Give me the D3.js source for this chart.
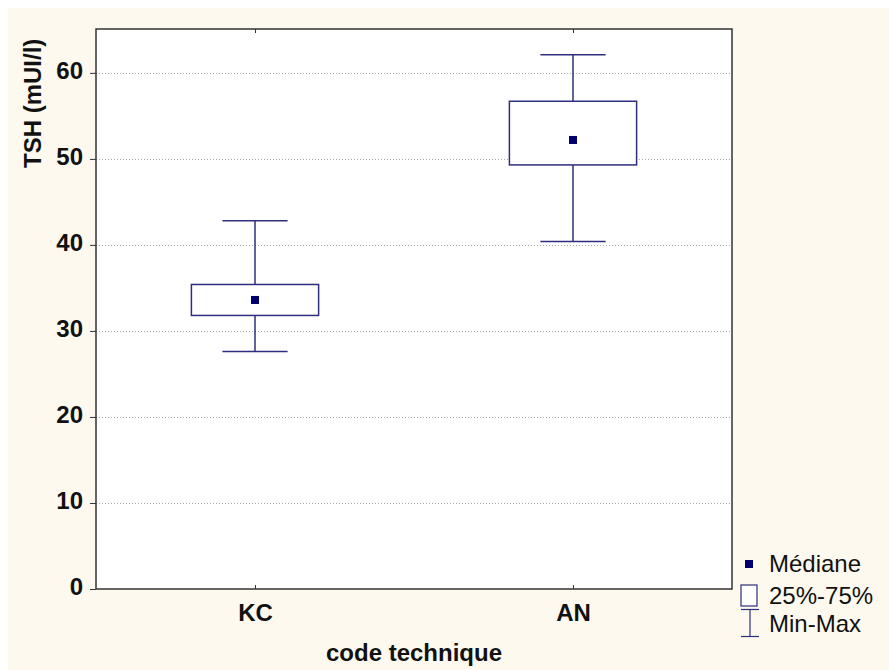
<!DOCTYPE html>
<html><head><meta charset="utf-8">
<script src="https://cdn.jsdelivr.net/npm/d3@7"></script>
<style>
html,body{margin:0;padding:0;background:#fff;}
svg{display:block;}
</style></head>
<body>
<svg id="chart" width="889" height="670"></svg>
<script>
const categories = ["KC", "AN"];
const minValues = [27.6, 40.4];
const q1Values = [31.8, 49.3];
const medianValues = [33.6, 52.2];
const q3Values = [35.4, 56.7];
const maxValues = [42.8, 62.1];
const yTicks = [0, 10, 20, 30, 40, 50, 60];
const legendLabels = ["Médiane", "25%-75%", "Min-Max"];

const svg = d3.select("#chart");
const W = 889, H = 670;
const m = {left: 96, top: 29, right: 732, bottom: 589};
const stroke = "#2e2e7e";
const medColor = "#00006e";
const font = "Liberation Sans, Arial, sans-serif";

svg.append("rect").attr("x", 8).attr("y", 8).attr("width", W - 8).attr("height", H - 8).attr("fill", "#fdf9ef");
svg.append("rect").attr("x", m.left).attr("y", m.top).attr("width", m.right - m.left).attr("height", m.bottom - m.top).attr("fill", "#fff");

const y = d3.scaleLinear().domain([0, 65.1]).range([m.bottom, m.top]);
const x = d3.scalePoint().domain(categories).range([m.left, m.right]).padding(0.5);
const step = x.step();
const boxW = step * 0.4;
const capW = step * 0.205;

// grid
svg.append("g").selectAll("line").data(yTicks.filter(d => d > 0)).join("line")
  .attr("x1", m.left).attr("x2", m.right)
  .attr("y1", d => Math.round(y(d)) + 0.5).attr("y2", d => Math.round(y(d)) + 0.5)
  .attr("stroke", "#a8a8a8").attr("stroke-width", 1).attr("stroke-dasharray", "1,2");

// y axis
const yAxis = d3.axisLeft(y).tickValues(yTicks).tickSize(6).tickPadding(7);
const gy = svg.append("g").attr("transform", `translate(${m.left},0)`).call(yAxis);
gy.select(".domain").remove();
gy.selectAll(".tick line").attr("stroke", "#333");
gy.selectAll(".tick text").attr("font-family", font).attr("font-weight", "bold")
  .attr("font-size", 24).attr("fill", "#111").attr("dy", "0.22em");

// x axis (bottom)
const xAxis = d3.axisBottom(x).tickSize(-4).tickPadding(15);
const gx = svg.append("g").attr("transform", `translate(0,${m.bottom})`).call(xAxis);
gx.select(".domain").remove();
gx.selectAll(".tick line").attr("stroke", "#333");
gx.selectAll(".tick text").attr("font-family", font).attr("font-weight", "bold")
  .attr("font-size", 24).attr("fill", "#111");
// top ticks
const gxt = svg.append("g").attr("transform", `translate(0,${m.top})`).call(d3.axisTop(x).tickSize(-4).tickFormat(""));
gxt.select(".domain").remove();
gxt.selectAll(".tick line").attr("stroke", "#333");

// frame
svg.append("rect").attr("x", m.left).attr("y", m.top).attr("width", m.right - m.left).attr("height", m.bottom - m.top)
  .attr("fill", "none").attr("stroke", "#333").attr("stroke-width", 1.5);

// boxes
const data = categories.map((c, i) => ({c, min: minValues[i], q1: q1Values[i], med: medianValues[i], q3: q3Values[i], max: maxValues[i]}));
const g = svg.append("g").selectAll("g").data(data).join("g");
g.append("line").attr("x1", d => x(d.c)).attr("x2", d => x(d.c)).attr("y1", d => y(d.max)).attr("y2", d => y(d.q3)).attr("stroke", stroke).attr("stroke-width", 1.5);
g.append("line").attr("x1", d => x(d.c)).attr("x2", d => x(d.c)).attr("y1", d => y(d.q1)).attr("y2", d => y(d.min)).attr("stroke", stroke).attr("stroke-width", 1.5);
g.append("line").attr("x1", d => x(d.c) - capW / 2).attr("x2", d => x(d.c) + capW / 2).attr("y1", d => y(d.max)).attr("y2", d => y(d.max)).attr("stroke", stroke).attr("stroke-width", 1.5);
g.append("line").attr("x1", d => x(d.c) - capW / 2).attr("x2", d => x(d.c) + capW / 2).attr("y1", d => y(d.min)).attr("y2", d => y(d.min)).attr("stroke", stroke).attr("stroke-width", 1.5);
g.append("rect").attr("x", d => x(d.c) - boxW / 2).attr("width", boxW).attr("y", d => y(d.q3)).attr("height", d => y(d.q1) - y(d.q3))
  .attr("fill", "#fff").attr("stroke", stroke).attr("stroke-width", 1.5);
g.append("rect").attr("x", d => x(d.c) - 4).attr("y", d => y(d.med) - 4).attr("width", 8).attr("height", 8).attr("fill", medColor);

// axis titles
svg.append("text").attr("transform", "translate(41,168) rotate(-90)").attr("text-anchor", "start")
  .attr("font-family", font).attr("font-weight", "bold").attr("font-size", 24).attr("fill", "#111")
  .text("TSH (mUI/l)");
svg.append("text").attr("x", (m.left + m.right) / 2).attr("y", 661).attr("text-anchor", "middle")
  .attr("font-family", font).attr("font-weight", "bold").attr("font-size", 24).attr("fill", "#111")
  .text("code technique");

// legend
const lg = svg.append("g");
const lx = 749;
lg.append("rect").attr("x", lx - 4).attr("y", 560).attr("width", 8).attr("height", 8).attr("fill", medColor);
lg.append("rect").attr("x", 741).attr("y", 585).attr("width", 16).attr("height", 21).attr("fill", "#fff").attr("stroke", stroke).attr("stroke-width", 1.2);
lg.append("line").attr("x1", 741).attr("x2", 759).attr("y1", 609.5).attr("y2", 609.5).attr("stroke", stroke).attr("stroke-width", 1.2);
lg.append("line").attr("x1", 741).attr("x2", 759).attr("y1", 636.5).attr("y2", 636.5).attr("stroke", stroke).attr("stroke-width", 1.2);
lg.append("line").attr("x1", 750).attr("x2", 750).attr("y1", 609.5).attr("y2", 636.5).attr("stroke", stroke).attr("stroke-width", 1.2);
const ly = [572, 604, 632];
lg.selectAll("text").data(legendLabels).join("text")
  .attr("x", 769).attr("y", (d, i) => ly[i])
  .attr("font-family", font).attr("font-size", 24).attr("fill", "#111")
  .text(d => d);
</script>
</body></html>
